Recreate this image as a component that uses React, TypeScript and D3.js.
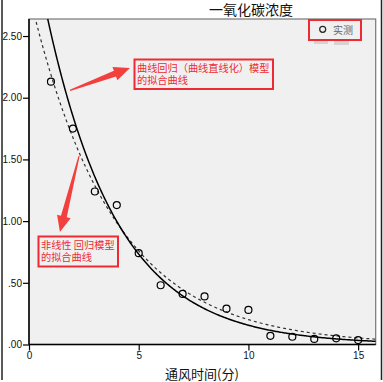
import * as d3 from 'd3'
import { useEffect, useRef } from 'react'

// 通风时间(分) and measured CO concentration
const times = [1, 2, 3, 4, 5, 6, 7, 8, 9, 10, 11, 12, 13, 14, 15]
const measured = [2.13, 1.75, 1.24, 1.13, 0.74, 0.48, 0.41, 0.39, 0.29, 0.28, 0.07, 0.063, 0.045, 0.05, 0.036]
const xTicks = [0, 5, 10, 15]
const yTicks = [0, 0.5, 1, 1.5, 2, 2.5]

const title = '一氧化碳浓度'
const xTitle = '通风时间(分)'
const legendLabel = '实测'
const noteLinearized = ['曲线回归（曲线直线化）模型', '的拟合曲线']
const noteNonlinear = ['非线性 回归模型', '的拟合曲线']

// y = a * exp(-b x), fitted on ln(y)
function fitLinearized(xs: number[], ys: number[]) {
    const ly = ys.map(Math.log)
    const mx = d3.mean(xs)!
    const my = d3.mean(ly)!
    let sxy = 0, sxx = 0
    xs.forEach((x, i) => { sxy += (x - mx) * (ly[i] - my); sxx += (x - mx) * (x - mx) })
    const b = -sxy / sxx
    return { a: Math.exp(my + b * mx), b }
}

// y = a * exp(-b x), least squares on y (Gauss-Newton)
function fitNonlinear(xs: number[], ys: number[], start: { a: number, b: number }) {
    let { a, b } = start
    for (let it = 0; it < 50; it++) {
        let j11 = 0, j12 = 0, j22 = 0, g1 = 0, g2 = 0
        xs.forEach((x, i) => {
            const e = Math.exp(-b * x)
            const r = ys[i] - a * e
            const da = e
            const db = -a * x * e
            j11 += da * da; j12 += da * db; j22 += db * db
            g1 += da * r; g2 += db * r
        })
        const det = j11 * j22 - j12 * j12
        a += (j22 * g1 - j12 * g2) / det
        b += (j11 * g2 - j12 * g1) / det
    }
    return { a, b }
}

function Arrow(svg: d3.Selection<SVGSVGElement, unknown, null, undefined>, from: [number, number], to: [number, number]) {
    const dx = to[0] - from[0], dy = to[1] - from[1]
    const len = Math.hypot(dx, dy)
    const ux = dx / len, uy = dy / len
    const nx = -uy, ny = ux
    const headLen = 16, headW = 7, neckW = 3, tailW = 0.6
    const bx = to[0] - ux * headLen, by = to[1] - uy * headLen
    const pts: [number, number][] = [
        [from[0] + nx * tailW, from[1] + ny * tailW],
        [bx + nx * neckW, by + ny * neckW],
        [bx + nx * headW, by + ny * headW],
        to,
        [bx - nx * headW, by - ny * headW],
        [bx - nx * neckW, by - ny * neckW],
        [from[0] - nx * tailW, from[1] - ny * tailW],
    ]
    svg.append('path').attr('d', 'M' + pts.map(p => p.join(',')).join('L') + 'Z').attr('fill', '#f2403f')
}

export default function App() {
    const svgRef = useRef<SVGSVGElement>(null)

    useEffect(() => {
        const width = 383
        const height = 382
        const left = 29, right = 375.7, top = 19, bottom = 344.5
        const svg = d3.select(svgRef.current!).attr('width', width).attr('height', height)
        svg.selectAll('*').remove()

        const x = d3.scaleLinear().domain([0, 15.8]).range([left, right])
        const y = d3.scaleLinear().domain([0, 2.638]).range([bottom, top])

        const numFont = '"Liberation Sans", Arial, sans-serif'
        const cjkFont = '"Noto Sans CJK SC", sans-serif'

        // outer frame
        svg.append('line').attr('x1', 2).attr('x2', 2).attr('y1', 0).attr('y2', 380).attr('stroke', '#222').attr('stroke-width', 1.5)
        svg.append('line').attr('x1', 381.5).attr('x2', 381.5).attr('y1', 0).attr('y2', 380).attr('stroke', '#222').attr('stroke-width', 1.5)

        // plot background
        svg.append('rect').attr('x', left).attr('y', top).attr('width', right - left).attr('height', bottom - top)
            .attr('fill', '#f0f0f0').attr('stroke', '#777').attr('stroke-width', 1.2)

        svg.append('defs').append('clipPath').attr('id', 'plotclip').append('rect')
            .attr('x', left).attr('y', top).attr('width', right - left).attr('height', bottom - top)

        // axes
        const gy = svg.append('g').attr('transform', `translate(${left},0)`)
            .call(d3.axisLeft(y).tickValues(yTicks).tickSize(6).tickFormat(d => d3.format('.2f')(+d).replace(/^0/, '')))
        const gx = svg.append('g').attr('transform', `translate(0,${bottom})`)
            .call(d3.axisBottom(x).tickValues(xTicks).tickSize(6).tickFormat(d3.format('d')))
        for (const g of [gx, gy]) {
            g.select('.domain').attr('stroke', '#000').attr('stroke-width', 1.5)
            g.selectAll('.tick line').attr('stroke', '#000').attr('stroke-width', 1.2)
            g.selectAll('.tick text').attr('fill', '#111').attr('font-size', 10).attr('font-family', numFont)
        }
        gy.select('.domain').attr('d', `M0,${top}V${bottom}`)
        gx.select('.domain').attr('d', `M${left},0H${right}`)
        gy.selectAll('.tick text').attr('x', -7)
        gx.selectAll('.tick text').attr('y', 7)

        // fitted curves
        const lin = fitLinearized(times, measured)
        const nonlin = fitNonlinear(times, measured, lin)
        const xs = d3.range(0, 15.81, 0.05)
        const curve = (p: { a: number, b: number }) => d3.line<number>().x(t => x(t)).y(t => y(p.a * Math.exp(-p.b * t)))(xs)!
        const plot = svg.append('g').attr('clip-path', 'url(#plotclip)')
        plot.append('path').attr('d', curve(nonlin)).attr('fill', 'none').attr('stroke', '#333')
            .attr('stroke-width', 1.2).attr('stroke-dasharray', '3,3')
        plot.append('path').attr('d', curve(lin)).attr('fill', 'none').attr('stroke', '#000').attr('stroke-width', 1.5)

        // observed points
        plot.selectAll('circle').data(times).enter().append('circle')
            .attr('cx', t => x(t)).attr('cy', (_, i) => y(measured[i])).attr('r', 3.5)
            .attr('fill', 'none').attr('stroke', '#000').attr('stroke-width', 1.2)

        // title
        svg.append('text').attr('x', 251).attr('y', 15).attr('text-anchor', 'middle')
            .attr('font-size', 14).attr('font-family', cjkFont).attr('fill', '#111').text(title)
        svg.append('text').attr('x', 202).attr('y', 379).attr('text-anchor', 'middle')
            .attr('font-size', 13).attr('font-family', cjkFont).attr('fill', '#111').text(xTitle)

        // legend
        svg.append('rect').attr('x', 314).attr('y', 41).attr('width', 14).attr('height', 3).attr('fill', '#d4d4d4')
        svg.append('rect').attr('x', 334).attr('y', 41).attr('width', 15).attr('height', 4).attr('fill', '#d4d4d4')
        svg.append('rect').attr('x', 309).attr('y', 20).attr('width', 52).attr('height', 20)
            .attr('fill', 'none').attr('stroke', '#ee2a33').attr('stroke-width', 2)
        svg.append('circle').attr('cx', 322.7).attr('cy', 29.3).attr('r', 3).attr('fill', 'none').attr('stroke', '#222').attr('stroke-width', 1.2)
        svg.append('text').attr('x', 333).attr('y', 33.5).attr('font-size', 10).attr('font-family', cjkFont)
            .attr('fill', '#666').text(legendLabel)

        // annotations
        const note = (bx: number, by: number, bw: number, bh: number, lines: string[]) => {
            svg.append('rect').attr('x', bx).attr('y', by).attr('width', bw).attr('height', bh)
                .attr('fill', '#f0f0f0').attr('stroke', '#ee2a33').attr('stroke-width', 2)
            lines.forEach((l, i) => svg.append('text').attr('x', bx + 2.5).attr('y', by + 12.5 + i * 12)
                .attr('font-size', 10.2).attr('font-family', cjkFont).attr('fill', '#ee2a33').text(l))
        }
        note(134.5, 59.5, 138.5, 29.5, noteLinearized)
        note(38.5, 236.5, 79.5, 30, noteNonlinear)
        Arrow(svg, [x(1.87), y(2.06)], [x(4.6), y(2.24)])
        Arrow(svg, [x(2.28), y(1.527)], [x(1.41), y(0.912)])
    }, [])

    return (
        <svg ref={svgRef} style={{ position: 'absolute', left: 0, top: 0, background: '#fff' }}></svg>
    )
}
